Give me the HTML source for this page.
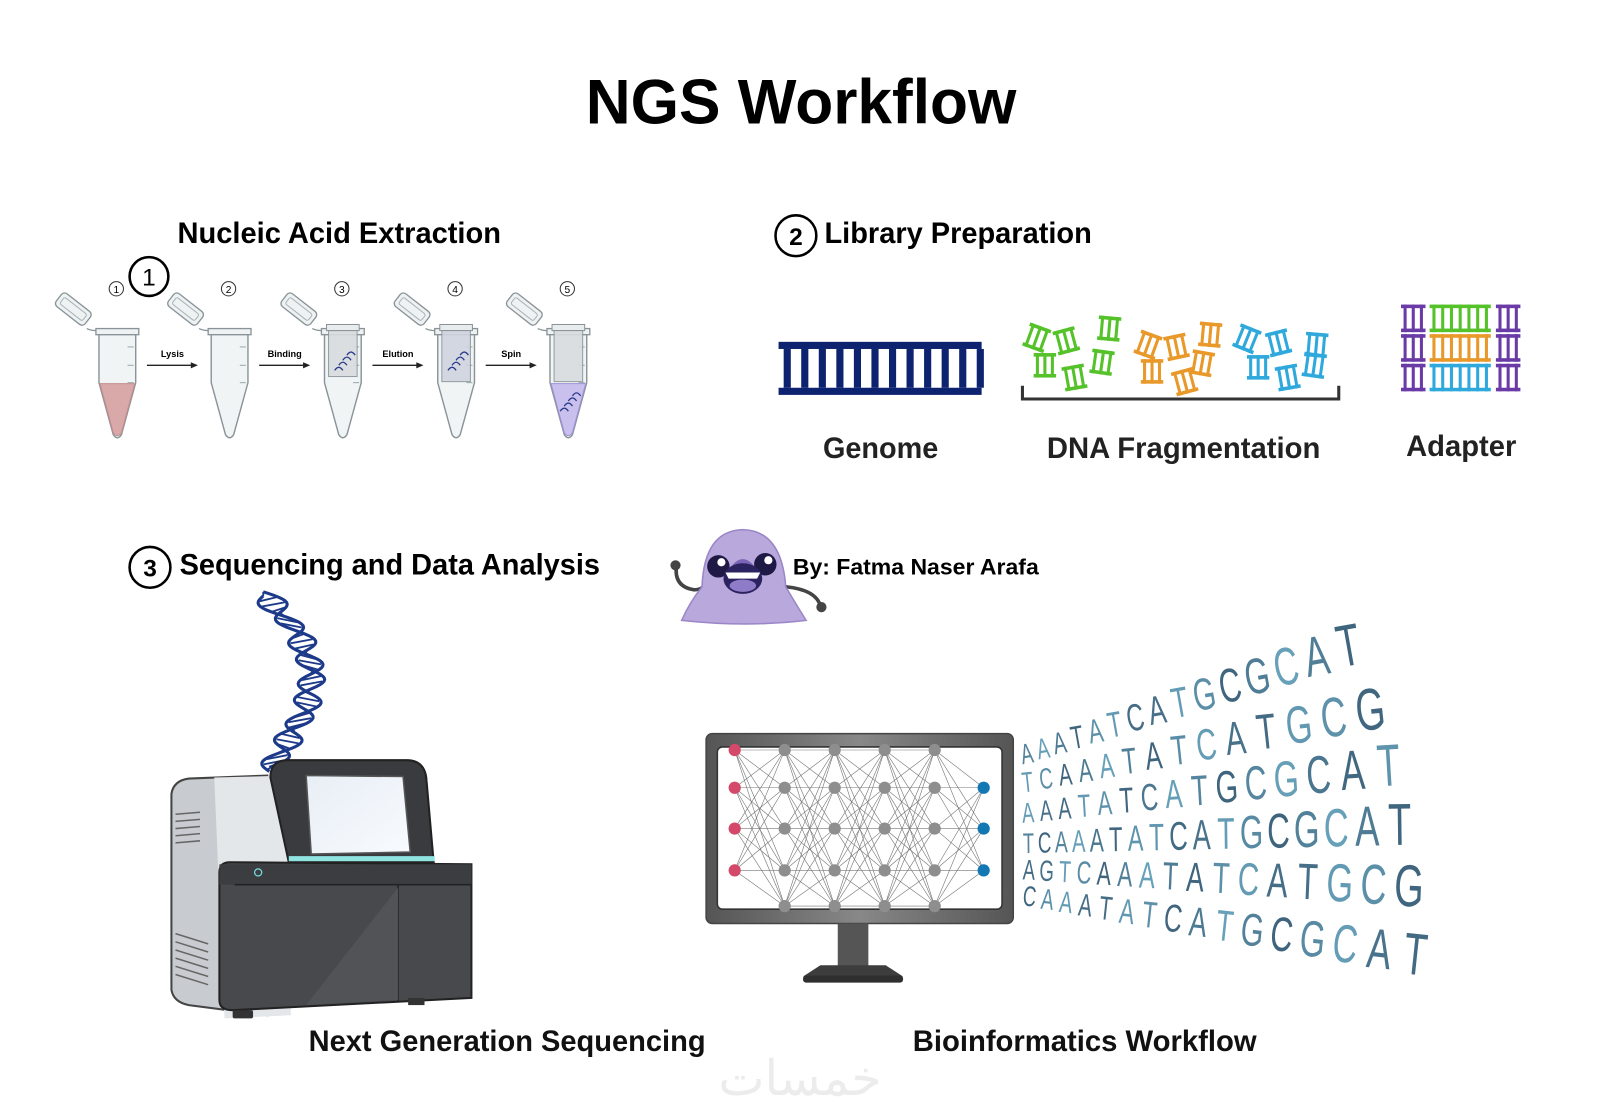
<!DOCTYPE html>
<html><head><meta charset="utf-8"><style>
html,body{margin:0;padding:0;background:#fff;}
svg{display:block}
text{font-family:"Liberation Sans",sans-serif;font-weight:bold;}
text.n{font-weight:normal;}
</style></head><body>
<svg id="s" width="1600" height="1120" viewBox="0 0 1600 1120" xmlns="http://www.w3.org/2000/svg">
<defs>
<linearGradient id="mon" x1="0" y1="0" x2="1" y2="0"><stop offset="0" stop-color="#555"/><stop offset="0.5" stop-color="#888"/><stop offset="1" stop-color="#555"/></linearGradient>
<linearGradient id="scr" x1="0" y1="0" x2="1" y2="1"><stop offset="0" stop-color="#e8eef5"/><stop offset="1" stop-color="#f8fbff"/></linearGradient>
<g id="tube">
 <g transform="translate(-28,-6) rotate(38)"><rect x="-38" y="-9" width="36" height="16" rx="4" fill="#eef2f3" stroke="#8a9498" stroke-width="1.3"/><rect x="-34" y="-5" width="28" height="8" rx="2" fill="none" stroke="#aab2b5" stroke-width="1"/></g>
 <path d="M-30,0 Q-26,2 -20,2" fill="none" stroke="#8a9498" stroke-width="1.3"/>
 <rect x="-21" y="0" width="42" height="6" fill="#eef2f3" stroke="#8a9498" stroke-width="1.3"/>
 <path d="M-18,6 L-18,53 L-4,104 Q0,110 4,104 L18,53 L18,6 Z" fill="#f0f4f5" stroke="#8a9498" stroke-width="1.4"/>
 <line x1="10" y1="18" x2="16" y2="18" stroke="#9aa" stroke-width="1"/>
 <line x1="10" y1="36" x2="16" y2="36" stroke="#9aa" stroke-width="1"/>
 <line x1="10" y1="53" x2="16" y2="53" stroke="#9aa" stroke-width="1"/>
</g>
</defs>
<g transform="scale(1.0204)">
<text x="785" y="121" font-size="62" text-anchor="middle" textLength="422" lengthAdjust="spacingAndGlyphs">NGS Workflow</text>

<text x="174" y="238" font-size="29" textLength="317" lengthAdjust="spacingAndGlyphs">Nucleic Acid Extraction</text>
<circle cx="146" cy="271" r="19" fill="none" stroke="#000" stroke-width="2.5"/>
<text x="146" y="280" font-size="24" text-anchor="middle" class="n">1</text>
<g id="tubes"></g>

<circle cx="780" cy="231" r="20" fill="none" stroke="#000" stroke-width="2.5"/>
<text x="780" y="240" font-size="24" text-anchor="middle">2</text>
<text x="808" y="238" font-size="29" textLength="262" lengthAdjust="spacingAndGlyphs">Library Preparation</text>
<g id="genome"></g>
<g id="frags"></g>
<path d="M1002,378 L1002,391 L1312,391 L1312,378" fill="none" stroke="#333" stroke-width="3"/>
<g id="adapter"></g>
<text x="863" y="449" font-size="29" text-anchor="middle" fill="#222" textLength="113" lengthAdjust="spacingAndGlyphs">Genome</text>
<text x="1160" y="449" font-size="29" text-anchor="middle" fill="#222" textLength="268" lengthAdjust="spacingAndGlyphs">DNA Fragmentation</text>
<text x="1432" y="447" font-size="29" text-anchor="middle" fill="#222" textLength="108" lengthAdjust="spacingAndGlyphs">Adapter</text>

<circle cx="147" cy="556" r="20" fill="none" stroke="#000" stroke-width="2.5"/>
<text x="147" y="565" font-size="24" text-anchor="middle">3</text>
<text x="176" y="563" font-size="29" textLength="412" lengthAdjust="spacingAndGlyphs">Sequencing and Data Analysis</text>

<path d="M663,554 Q660,575 680,578 Q690,578 692,570" fill="none" stroke="#444" stroke-width="3.5"/>
<circle cx="662" cy="554" r="5" fill="#444"/>
<path d="M770,575 Q800,578 804,594" fill="none" stroke="#444" stroke-width="3.5"/>
<circle cx="805" cy="595" r="5" fill="#444"/>
<path d="M668,608 Q676,590 688,575 Q690,520 728,519 Q766,520 770,575 Q780,592 790,608 Q730,615 668,608 Z" fill="#b9a8dc" stroke="#9a86c8" stroke-width="1.5"/>
<circle cx="704" cy="555" r="11" fill="#1f1a45"/><circle cx="707" cy="551" r="4" fill="#fff"/>
<circle cx="750" cy="553" r="11" fill="#1f1a45"/><circle cx="753" cy="549" r="4" fill="#fff"/>
<path d="M716,556 Q728,540 740,556 Z" fill="#7a66b5"/>
<ellipse cx="728" cy="567" rx="19" ry="15" fill="#2b2260"/>
<ellipse cx="728" cy="574" rx="13" ry="6" fill="#8f7cc8"/>
<path d="M711,561 L745,561 L742,567 L714,567 Z" fill="#fff"/>
<text x="777" y="563" font-size="22" textLength="241" lengthAdjust="spacingAndGlyphs">By: Fatma Naser Arafa</text>

<g id="helix"></g>

<path d="M168,778 Q170,765 185,763 L262,760 L262,995 L185,985 Q170,982 168,970 Z" fill="#c8ccd0" stroke="#444" stroke-width="2"/>
<path d="M210,762 L285,760 L285,995 L220,998 Z" fill="#e4e7ea"/>
<g stroke="#666" stroke-width="1.5">
<line x1="172" y1="798" x2="196" y2="796"/><line x1="172" y1="805" x2="196" y2="803"/><line x1="172" y1="812" x2="196" y2="810"/><line x1="172" y1="819" x2="196" y2="817"/><line x1="172" y1="826" x2="196" y2="824"/>
<line x1="172" y1="915" x2="204" y2="925"/><line x1="172" y1="923" x2="204" y2="933"/><line x1="172" y1="931" x2="204" y2="941"/><line x1="172" y1="939" x2="204" y2="949"/><line x1="172" y1="947" x2="204" y2="957"/><line x1="172" y1="955" x2="204" y2="965"/>
</g>
<path d="M265,762 Q265,745 282,745 L400,745 Q417,746 418,765 L425,845 L283,845 Z" fill="#3a3b3e" stroke="#222" stroke-width="2"/>
<path d="M300,760 L395,761 L402,835 L305,837 Z" fill="url(#scr)" stroke="#555" stroke-width="1.5"/>
<rect x="283" y="839" width="143" height="5" fill="#8fe3e0"/>
<path d="M215,855 Q215,845 225,845 L462,847 L462,978 L228,990 Q215,990 215,980 Z" fill="#48494c" stroke="#222" stroke-width="2"/>
<rect x="215" y="847" width="247" height="20" fill="#3c3d40"/>
<line x1="230" y1="867" x2="462" y2="867" stroke="#222" stroke-width="1.5"/>
<line x1="390" y1="867" x2="390" y2="982" stroke="#222" stroke-width="1.5"/>
<path d="M300,985 L390,870 L390,980 Z" fill="#525357"/>
<circle cx="253" cy="855" r="3.5" fill="none" stroke="#7dd" stroke-width="1.2"/>
<rect x="228" y="990" width="20" height="8" rx="2" fill="#333"/><rect x="400" y="978" width="16" height="7" fill="#333"/>

<rect x="692" y="719" width="301" height="186" rx="6" fill="url(#mon)" stroke="#444" stroke-width="1.5"/>
<rect x="703" y="732" width="279" height="159" rx="5" fill="#fff" stroke="#333" stroke-width="1.5"/>
<g id="net"></g>
<rect x="821" y="905" width="30" height="42" fill="#555"/>
<path d="M804,946 L868,946 L885,957 L787,957 Z" fill="#3d3d3d"/>
<rect x="787" y="956" width="98" height="7" rx="3" fill="#2f2f2f"/>
<g id="letters"></g>

<text x="497" y="1030" font-size="29" text-anchor="middle" fill="#111" textLength="389" lengthAdjust="spacingAndGlyphs">Next Generation Sequencing</text>
<text x="1063" y="1030" font-size="29" text-anchor="middle" fill="#111" textLength="337" lengthAdjust="spacingAndGlyphs">Bioinformatics Workflow</text>
<text x="784" y="1073" font-size="48" text-anchor="middle" fill="#ececec" font-family="DejaVu Sans,sans-serif" class="n">خمسات</text>
</g>
</svg>
<script>
var NS="http://www.w3.org/2000/svg";
function el(p,t,a,txt){var e=document.createElementNS(NS,t);for(var k in a)e.setAttribute(k,a[k]);if(txt!=null)e.textContent=txt;document.getElementById(p).appendChild(e);return e;}
var cx=[115,225,336,447,557],fills=[["#d9a8a8","#c78d8d"],null,null,null,["#c9c0ee","#9e90d8"]];
var labels=["Lysis","Binding","Elution","Spin"];
for(var i=0;i<5;i++){
 var g=el("tubes","g",{transform:"translate("+cx[i]+",322)"});
 var u=document.createElementNS(NS,"use");u.setAttribute("href","#tube");g.appendChild(u);
 el("tubes","circle",{cx:cx[i]-1,cy:283,r:7,fill:"none",stroke:"#333","stroke-width":1});
 el("tubes","text",{x:cx[i]-1,y:287,"font-size":10,"text-anchor":"middle","class":"n"},""+(i+1));
 if(i==0||i==4){el("tubes","path",{d:"M"+(cx[i]-17)+",376 L"+(cx[i]-4)+",424 Q"+cx[i]+",430 "+(cx[i]+4)+",424 L"+(cx[i]+17)+",376 Z",fill:fills[i][0],stroke:fills[i][1],"stroke-width":1});}
 if(i>=2){el("tubes","rect",{x:cx[i]-16,y:318,width:32,height:6,fill:"#e8eced",stroke:"#8a9498"});
  el("tubes","rect",{x:cx[i]-14,y:324,width:28,height:i==2?45:50,fill:i==3?"#cfd4e0":"#d8dcde",stroke:"#8a9498","stroke-width":1,opacity:0.9});
  var hy=i==4?395:355;
  for(var k=0;k<4;k++){el("tubes","path",{d:"M"+(cx[i]-8+k*4)+","+(hy+8-k*5)+" q4,-6 8,0",fill:"none",stroke:"#2a3a8a","stroke-width":1.3});}
 }
 if(i<4){var ax=cx[i]+29;el("tubes","line",{x1:ax,y1:358,x2:ax+46,y2:358,stroke:"#222","stroke-width":1.3});
  el("tubes","path",{d:"M"+(ax+50)+",358 l-7,-3 v6 z",fill:"#222"});
  el("tubes","text",{x:ax+25,y:350,"font-size":9,"text-anchor":"middle"},labels[i]);}
}
el("genome","rect",{x:763,y:335,width:199,height:7,fill:"#0e2370"});
el("genome","rect",{x:763,y:380,width:199,height:7,fill:"#0e2370"});
for(var x=768;x<958;x+=17.2)el("genome","rect",{x:x,y:342,width:7,height:38,fill:"#0e2370"});
function ladder(p,x,y,rot,col,w,h,n){var g=el(p,"g",{transform:"translate("+x+","+y+") rotate("+rot+")"});
 var add=function(t,a){var e=document.createElementNS(NS,t);for(var k in a)e.setAttribute(k,a[k]);g.appendChild(e);};
 add("rect",{x:-w/2,y:-h/2,width:w,height:3.5,fill:col});add("rect",{x:-w/2,y:h/2-3.5,width:w,height:3.5,fill:col});
 for(var j=0;j<n;j++){var xx=-w/2+w*(j+0.5)/n-1.5;add("rect",{x:xx,y:-h/2,width:3,height:h,fill:col});}}
var G="#55c22a",O="#e9982a",B="#2fa9dc";
var fr=[[1016,331,20,G],[1045,334,-15,G],[1087,322,5,G],[1024,358,0,G],[1053,370,-10,G],[1080,355,8,G],
[1125,338,20,O],[1153,340,-12,O],[1186,328,5,O],[1129,364,0,O],[1161,374,-15,O],[1178,356,10,O],
[1222,332,22,B],[1253,336,-14,B],[1290,338,5,B],[1233,360,0,B],[1262,370,-10,B],[1288,358,8,B]];
fr.forEach(function(f){ladder("frags",f[0],f[1],f[2],f[3],22,24,3);});
var P="#6a3aa6";
[[1385,312],[1385,341],[1385,370]].forEach(function(a){ladder("adapter",a[0],a[1],0,P,24,27,3);ladder("adapter",a[0]+93,a[1],0,P,24,27,3);});
ladder("adapter",1431,312,0,G,60,27,7);ladder("adapter",1431,341,0,O,60,27,7);ladder("adapter",1431,370,0,B,60,27,7);
var pts1="",pts2="";
function hx(t){return 258+52*Math.sin(t*Math.PI)*(1-0.3*t)+6*t;}
for(var t=0;t<=1.0001;t+=0.01){var y=580+t*172;var bx=hx(t);var a=Math.sin(t*Math.PI*9);
 pts1+=(bx+13*a)+","+y+" ";pts2+=(bx-13*a)+","+(y+4)+" ";
 if(Math.round(t*100)%3==0)el("helix","line",{x1:bx+11*a,y1:y,x2:bx-11*a,y2:y+4,stroke:"#1d3a8a","stroke-width":1.8});}
el("helix","polyline",{points:pts1,fill:"none",stroke:"#1d3a8a","stroke-width":3});
el("helix","polyline",{points:pts2,fill:"none",stroke:"#1d3a8a","stroke-width":3});
var cols=[720,769,818,867,916,964],rows=[[735,772,812,853],[735,772,812,853,888],[735,772,812,853,888],[735,772,812,853,888],[735,772,812,853,888],[772,812,853]];
for(var c=0;c<5;c++)rows[c].forEach(function(y1){rows[c+1].forEach(function(y2){el("net","line",{x1:cols[c],y1:y1,x2:cols[c+1],y2:y2,stroke:"#777","stroke-width":0.6});});});
for(var c=0;c<6;c++)rows[c].forEach(function(y){el("net","circle",{cx:cols[c],cy:y,r:6,fill:c==0?"#d4496a":c==5?"#1277b3":"#8e8e8e"});});
var seqs=["AAATATCATGCGCAT","TCAAATATCATGCG","AAATATCATGCGCAT","TCAAATATCATGCGCAT","AGTCAAATATCATGCG","CAAATATCATGCGCAT"];
var y0=[748,776,806,836,862,888],y1=[652,715,770,828,888,955],xe=[1325,1345,1362,1372,1380,1385];
seqs.forEach(function(s,r){var n=s.length;var fsz=[],tot=0;
 for(var j=0;j<n;j++){var f=j/(n-1);var fs=28+30*Math.pow(f,1.4);fsz.push(fs);tot+=fs;}
 tot-= (fsz[0]+fsz[n-1])/2;var acc=0;
 for(var j=0;j<n;j++){if(j>0)acc+=(fsz[j-1]+fsz[j])/2;var f=acc/tot;
 var xx=1008+(xe[r]-1008)*f;var yy=y0[r]+(y1[r]-y0[r])*f;var fs=fsz[j];
 var g=Math.round(70+60*Math.sin(j*1.7+r));var col="rgb("+(60+g/3|0)+","+(95+g/2|0)+","+(120+g/2|0)+")";
 var ang=-(Math.atan2(y0[r]-y1[r],xe[r]-1008)*180/Math.PI)*0.6;
 el("letters","text",{x:0,y:0,"font-size":fs,fill:col,"class":"n",transform:"translate("+xx+","+yy+") rotate("+ang+") scale(0.64,1)","text-anchor":"middle"},s[j]);}});
</script>
</body></html>
